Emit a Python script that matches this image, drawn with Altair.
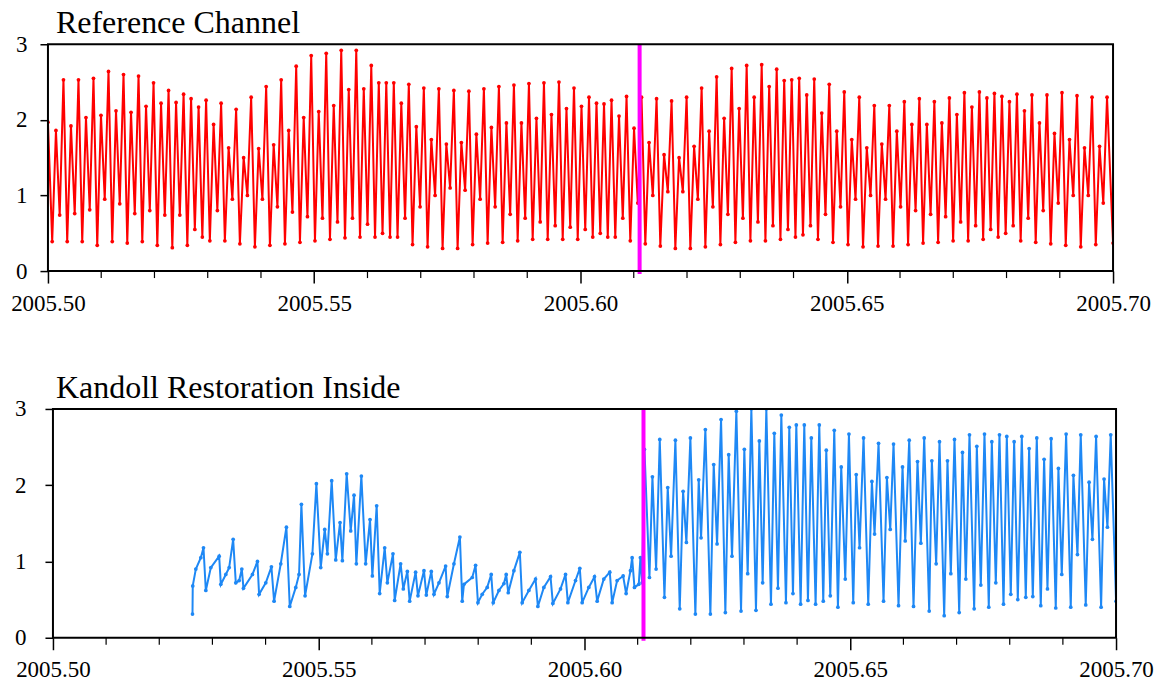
import altair as alt
import pandas as pd

FONT = "Liberation Serif"

# ---------------- Reference Channel (red): high and low waters ----------------
red_start = [2005.5, 1.97]          # first sample (time, level)
red_end = [2005.7, 0.37]            # last sample (time, level)
red_first_high_time = 2005.50150    # time of first high water
red_high_step = 0.0014098           # spacing between successive high waters (years)

red_highs = [1.86, 2.53, 1.92, 2.53, 2.03, 2.55, 2.06, 2.64, 2.12, 2.60,
             2.10, 2.58, 2.18, 2.49, 2.22, 2.39, 2.23, 2.34, 2.28, 2.17,
             2.26, 1.94, 2.22, 1.63, 2.14, 1.50, 2.30, 1.62, 2.44, 1.67,
             2.53, 1.86, 2.71, 2.03, 2.85, 2.11, 2.88, 2.19, 2.92, 2.40,
             2.92, 2.41, 2.72, 2.49, 2.49, 2.49, 2.22, 2.47, 1.91, 2.42,
             1.74, 2.41, 1.68, 2.39, 1.70, 2.38, 1.81, 2.41, 1.90, 2.44,
             1.96, 2.46, 1.96, 2.48, 2.02, 2.49, 2.07, 2.50, 2.15, 2.42,
             2.18, 2.30, 2.22, 2.21, 2.26, 2.05, 2.31, 1.89, 2.30, 1.70,
             2.28, 1.54, 2.25, 1.50, 2.30, 1.65, 2.42, 1.85, 2.57, 2.02,
             2.68, 2.15, 2.72, 2.30, 2.73, 2.44, 2.67, 2.52, 2.53, 2.55,
             2.33, 2.54, 2.09, 2.47, 1.85, 2.37, 1.74, 2.30, 1.63, 2.19,
             1.68, 2.19, 1.85, 2.24, 1.94, 2.28, 1.94, 2.24, 1.96, 2.29,
             2.07, 2.36, 2.17, 2.37, 2.29, 2.35, 2.31, 2.24, 2.34, 2.12,
             2.33, 1.96, 2.33, 1.82, 2.36, 1.74, 2.32, 1.63, 2.30, 1.65,
             2.30]

# low water preceding each high water
red_lows = [0.39,
            0.74, 0.39, 0.76, 0.39, 0.81, 0.34, 0.95, 0.39, 0.89, 0.37,
            0.76, 0.39, 0.80, 0.34, 0.74, 0.31, 0.74, 0.34, 0.55, 0.45,
            0.40, 0.80, 0.40, 0.95, 0.36, 1.00, 0.32, 0.95, 0.34, 0.85,
            0.36, 0.78, 0.38, 0.72, 0.40, 0.70, 0.42, 0.65, 0.44, 0.70,
            0.45, 0.62, 0.45, 0.50, 0.45, 0.45, 0.70, 0.35, 0.85, 0.32,
            1.00, 0.30, 1.10, 0.30, 1.07, 0.35, 0.95, 0.37, 0.85, 0.38,
            0.75, 0.40, 0.70, 0.42, 0.65, 0.42, 0.60, 0.42, 0.58, 0.42,
            0.55, 0.45, 0.50, 0.45, 0.45, 0.70, 0.40, 0.90, 0.36, 1.00,
            0.33, 1.05, 0.30, 1.05, 0.30, 0.95, 0.32, 0.85, 0.35, 0.75,
            0.38, 0.70, 0.40, 0.65, 0.40, 0.60, 0.42, 0.55, 0.45, 0.48,
            0.60, 0.42, 0.75, 0.38, 0.85, 0.35, 0.95, 0.32, 1.00, 0.33,
            0.95, 0.33, 0.85, 0.35, 0.80, 0.37, 0.75, 0.38, 0.72, 0.40,
            0.65, 0.40, 0.60, 0.42, 0.55, 0.45, 0.50, 0.60, 0.40, 0.70,
            0.38, 0.80, 0.36, 0.90, 0.34, 1.00, 0.32, 1.00, 0.35, 0.90]

# ---------------- Kandoll Restoration Inside (blue) ----------------
blue_t = [2005.52625, 2005.52630, 2005.52688, 2005.52782, 2005.52832, 2005.52876,
          2005.52970, 2005.53127, 2005.53158, 2005.53252, 2005.53315, 2005.53390,
          2005.53440, 2005.53503, 2005.53553, 2005.53584, 2005.53753, 2005.53847,
          2005.53878, 2005.54004, 2005.54110, 2005.54160, 2005.54286, 2005.54392,
          2005.54455, 2005.54568, 2005.54630, 2005.54674, 2005.54743, 2005.54881,
          2005.54956, 2005.55038, 2005.55113, 2005.55163, 2005.55244, 2005.55320,
          2005.55401, 2005.55445, 2005.55526, 2005.55602, 2005.55664, 2005.55708,
          2005.55802, 2005.55883, 2005.55965, 2005.56009, 2005.56090, 2005.56147,
          2005.56241, 2005.56291, 2005.56397, 2005.56429, 2005.56541, 2005.56591,
          2005.56667, 2005.56711, 2005.56823, 2005.56867, 2005.56980, 2005.57024,
          2005.57118, 2005.57168, 2005.57262, 2005.57387, 2005.57419, 2005.57544,
          2005.57656, 2005.57700, 2005.57732, 2005.57888, 2005.57951, 2005.57995,
          2005.58076, 2005.58170, 2005.58245, 2005.58283, 2005.58390, 2005.58484,
          2005.58527, 2005.58565, 2005.58672, 2005.58784, 2005.58828, 2005.58953,
          2005.59079, 2005.59123, 2005.59235, 2005.59361, 2005.59405, 2005.59549,
          2005.59643, 2005.59687, 2005.59831, 2005.59912, 2005.59956, 2005.60081,
          2005.60188, 2005.60238, 2005.60363, 2005.60476, 2005.60520, 2005.60614,
          2005.60727, 2005.60783, 2005.60865, 2005.60896, 2005.60940, 2005.61021,
          2005.61052, 2005.61084, 2005.61128, 2005.61222, 2005.61278, 2005.61347,
          2005.61416, 2005.61504, 2005.61566, 2005.61629, 2005.61710, 2005.61792,
          2005.61855, 2005.61917, 2005.61992, 2005.62086, 2005.62149, 2005.62193,
          2005.62274, 2005.62368, 2005.62431, 2005.62494, 2005.62569, 2005.62650,
          2005.62713, 2005.62775, 2005.62857, 2005.62945, 2005.63007, 2005.63070,
          2005.63139, 2005.63226, 2005.63289, 2005.63352, 2005.63421, 2005.63508,
          2005.63571, 2005.63640, 2005.63703, 2005.63790, 2005.63853, 2005.63922,
          2005.63985, 2005.64066, 2005.64135, 2005.64204, 2005.64267, 2005.64348,
          2005.64417, 2005.64492, 2005.64549, 2005.64624, 2005.64699, 2005.64768,
          2005.64830, 2005.64906, 2005.64975, 2005.65056, 2005.65112, 2005.65175,
          2005.65250, 2005.65338, 2005.65407, 2005.65457, 2005.65532, 2005.65626,
          2005.65689, 2005.65752, 2005.65814, 2005.65908, 2005.65983, 2005.66034,
          2005.66109, 2005.66190, 2005.66265, 2005.66328, 2005.66391, 2005.66485,
          2005.66535, 2005.66616, 2005.66679, 2005.66767, 2005.66829, 2005.66892,
          2005.66961, 2005.67049, 2005.67111, 2005.67174, 2005.67243, 2005.67331,
          2005.67381, 2005.67456, 2005.67525, 2005.67606, 2005.67663, 2005.67738,
          2005.67807, 2005.67883, 2005.67945, 2005.68020, 2005.68083, 2005.68152,
          2005.68227, 2005.68302, 2005.68365, 2005.68434, 2005.68509, 2005.68584,
          2005.68647, 2005.68710, 2005.68779, 2005.68866, 2005.68916, 2005.68979,
          2005.69061, 2005.69148, 2005.69198, 2005.69274, 2005.69336, 2005.69430,
          2005.69493, 2005.69556, 2005.69625, 2005.69719, 2005.69775, 2005.69838,
          2005.69900, 2005.70000]
blue_v = [0.31, 0.68, 0.90, 1.05, 1.18, 0.62,
          0.92, 1.07, 0.70, 0.83, 0.92, 1.29,
          0.72, 0.75, 0.90, 0.65, 0.83, 1.00,
          0.57, 0.72, 0.93, 0.48, 0.97, 1.45,
          0.41, 0.66, 0.83, 1.75, 0.55, 1.10,
          2.02, 0.92, 1.42, 1.10, 2.06, 1.02,
          1.51, 1.01, 2.15, 1.40, 1.87, 0.97,
          2.12, 0.97, 1.55, 0.81, 1.73, 0.58,
          1.18, 0.72, 1.10, 0.49, 0.97, 0.64,
          0.87, 0.48, 0.86, 0.55, 0.88, 0.56,
          0.87, 0.57, 0.72, 0.94, 0.54, 0.97,
          1.32, 0.48, 0.70, 0.79, 0.95, 0.46,
          0.57, 0.66, 0.83, 0.46, 0.62, 0.71,
          0.83, 0.59, 0.88, 1.12, 0.46, 0.62,
          0.77, 0.41, 0.66, 0.80, 0.45, 0.64,
          0.83, 0.46, 0.75, 0.91, 0.46, 0.66,
          0.80, 0.48, 0.77, 0.86, 0.46, 0.75,
          0.81, 0.58, 0.88, 1.05, 0.66, 0.70,
          1.05, 0.72, 2.47, 0.79, 2.11, 0.90,
          2.60, 0.53, 1.97, 1.07, 2.59, 0.38,
          1.92, 1.25, 2.62, 0.31, 2.07, 1.31,
          2.73, 0.31, 2.27, 1.23, 2.86, 0.33,
          2.40, 1.07, 2.97, 0.35, 2.47, 0.84,
          3.00, 0.36, 2.58, 0.72, 3.00, 0.44,
          2.68, 0.65, 2.92, 0.46, 2.76, 0.58,
          2.79, 0.44, 2.79, 0.49, 2.62, 0.44,
          2.79, 0.48, 2.46, 0.55, 2.72, 0.40,
          2.24, 0.77, 2.67, 0.46, 2.14, 1.18,
          2.62, 0.44, 2.05, 1.36, 2.55, 0.48,
          2.10, 1.42, 2.54, 0.42, 2.24, 1.27,
          2.59, 0.41, 2.31, 1.24, 2.62, 0.35,
          2.32, 0.97, 2.57, 0.29, 2.32, 0.84,
          2.60, 0.33, 2.43, 0.77, 2.66, 0.38,
          2.51, 0.69, 2.67, 0.40, 2.57, 0.72,
          2.66, 0.44, 2.64, 0.57, 2.57, 0.50,
          2.64, 0.53, 2.48, 0.54, 2.62, 0.42,
          2.34, 0.64, 2.61, 0.39, 2.22, 0.83,
          2.67, 0.40, 2.13, 1.09, 2.66, 0.43,
          2.04, 1.29, 2.64, 0.40, 2.08, 1.45,
          2.66, 0.48]

change_time = [2005.6111]
x_domain = [2005.5, 2005.7]
y_domain = [0, 3]
major_ticks = [2005.50, 2005.55, 2005.60, 2005.65, 2005.70]
minor_ticks = [2005.51, 2005.52, 2005.53, 2005.54, 2005.56, 2005.57, 2005.58,
               2005.59, 2005.61, 2005.62, 2005.63, 2005.64, 2005.66, 2005.67,
               2005.68, 2005.69]
y_ticks = [0, 1, 2, 3]

# ---------------- build tables ----------------
red_t, red_v = [red_start[0]], [red_start[1]]
for i, (lo, hi) in enumerate(zip(red_lows, red_highs)):
    th = red_first_high_time + i * red_high_step
    red_t += [th - red_high_step / 2, th]
    red_v += [lo, hi]
red_t.append(red_end[0])
red_v.append(red_end[1])

red_df = pd.DataFrame({"t": red_t, "v": red_v})
blue_df = pd.DataFrame({"t": blue_t, "v": blue_v})
chg_df = pd.DataFrame({"t": change_time})
minor_df = pd.DataFrame({"t": minor_ticks})


def panel(df, color, title, width, x_off, height, label_pad, title_dx):
    xscale = alt.Scale(domain=x_domain, nice=False, zero=False,
                       range=[x_off, width])
    yscale = alt.Scale(domain=y_domain, nice=False, zero=True)
    xaxis = alt.Axis(values=major_ticks, format=".2f", title=None, grid=False,
                     domain=False,
                     tickSize=12, tickWidth=1.5, tickColor="black",
                     labelFont=FONT, labelFontSize=23, labelColor="black",
                     labelPadding=9, labelOverlap=False, labelFlush=False,
                     labelBound=False)
    yaxis = alt.Axis(values=y_ticks, format="d", grid=False, title=None,
                     domain=False, offset=-x_off,
                     tickSize=8, tickWidth=1.5, tickColor="black",
                     labelFont=FONT, labelFontSize=23, labelColor="black",
                     labelPadding=label_pad)
    base = alt.Chart(df).encode(
        x=alt.X("t:Q", scale=xscale, axis=xaxis),
        y=alt.Y("v:Q", scale=yscale, axis=yaxis),
    )
    line = base.mark_line(color=color, strokeWidth=2, clip=True,
                          point=alt.OverlayMarkDef(filled=True, color=color,
                                                   size=14, clip=True))
    minor = alt.Chart(minor_df).mark_rule(color="black", strokeWidth=1.2).encode(
        x=alt.X("t:Q", scale=xscale),
        y=alt.value(height),
        y2=alt.value(height + 7),
    )
    chg = alt.Chart(chg_df).mark_rule(color="#FF00FF", strokeWidth=4).encode(
        x=alt.X("t:Q", scale=xscale),
        y=alt.value(0),
        y2=alt.value(height + 3),
    )
    # plot frame drawn over the data extent through the scales
    frame = alt.Chart(chg_df).mark_rect(fill="transparent", stroke="black",
                                        strokeWidth=2).encode(
        x=alt.XDatum(x_domain[0], scale=xscale),
        x2=alt.X2Datum(x_domain[1]),
        y=alt.YDatum(y_domain[0], scale=yscale),
        y2=alt.Y2Datum(y_domain[1]),
    )
    return alt.layer(line, chg, minor, frame).properties(
        width=width, height=height,
        title=alt.TitleParams(title, anchor="start", frame="group", dx=title_dx,
                              font=FONT, fontSize=32, fontWeight="normal",
                              color="black", offset=-7),
    )


top = panel(red_df, "#FF0000", "Reference Channel", 1066, 0, 227, 13, 8)
bottom = panel(blue_df, "#1E88F5", "Kandoll Restoration Inside", 1069, 5, 229, 19, 8)

chart = alt.vconcat(top, bottom, spacing=55).properties(
    padding={"left": 10, "top": 6, "right": 5, "bottom": 5},
    background="white",
).configure_view(stroke="transparent")

chart.save("out.html", embed_options={"renderer": "svg", "actions": False})
